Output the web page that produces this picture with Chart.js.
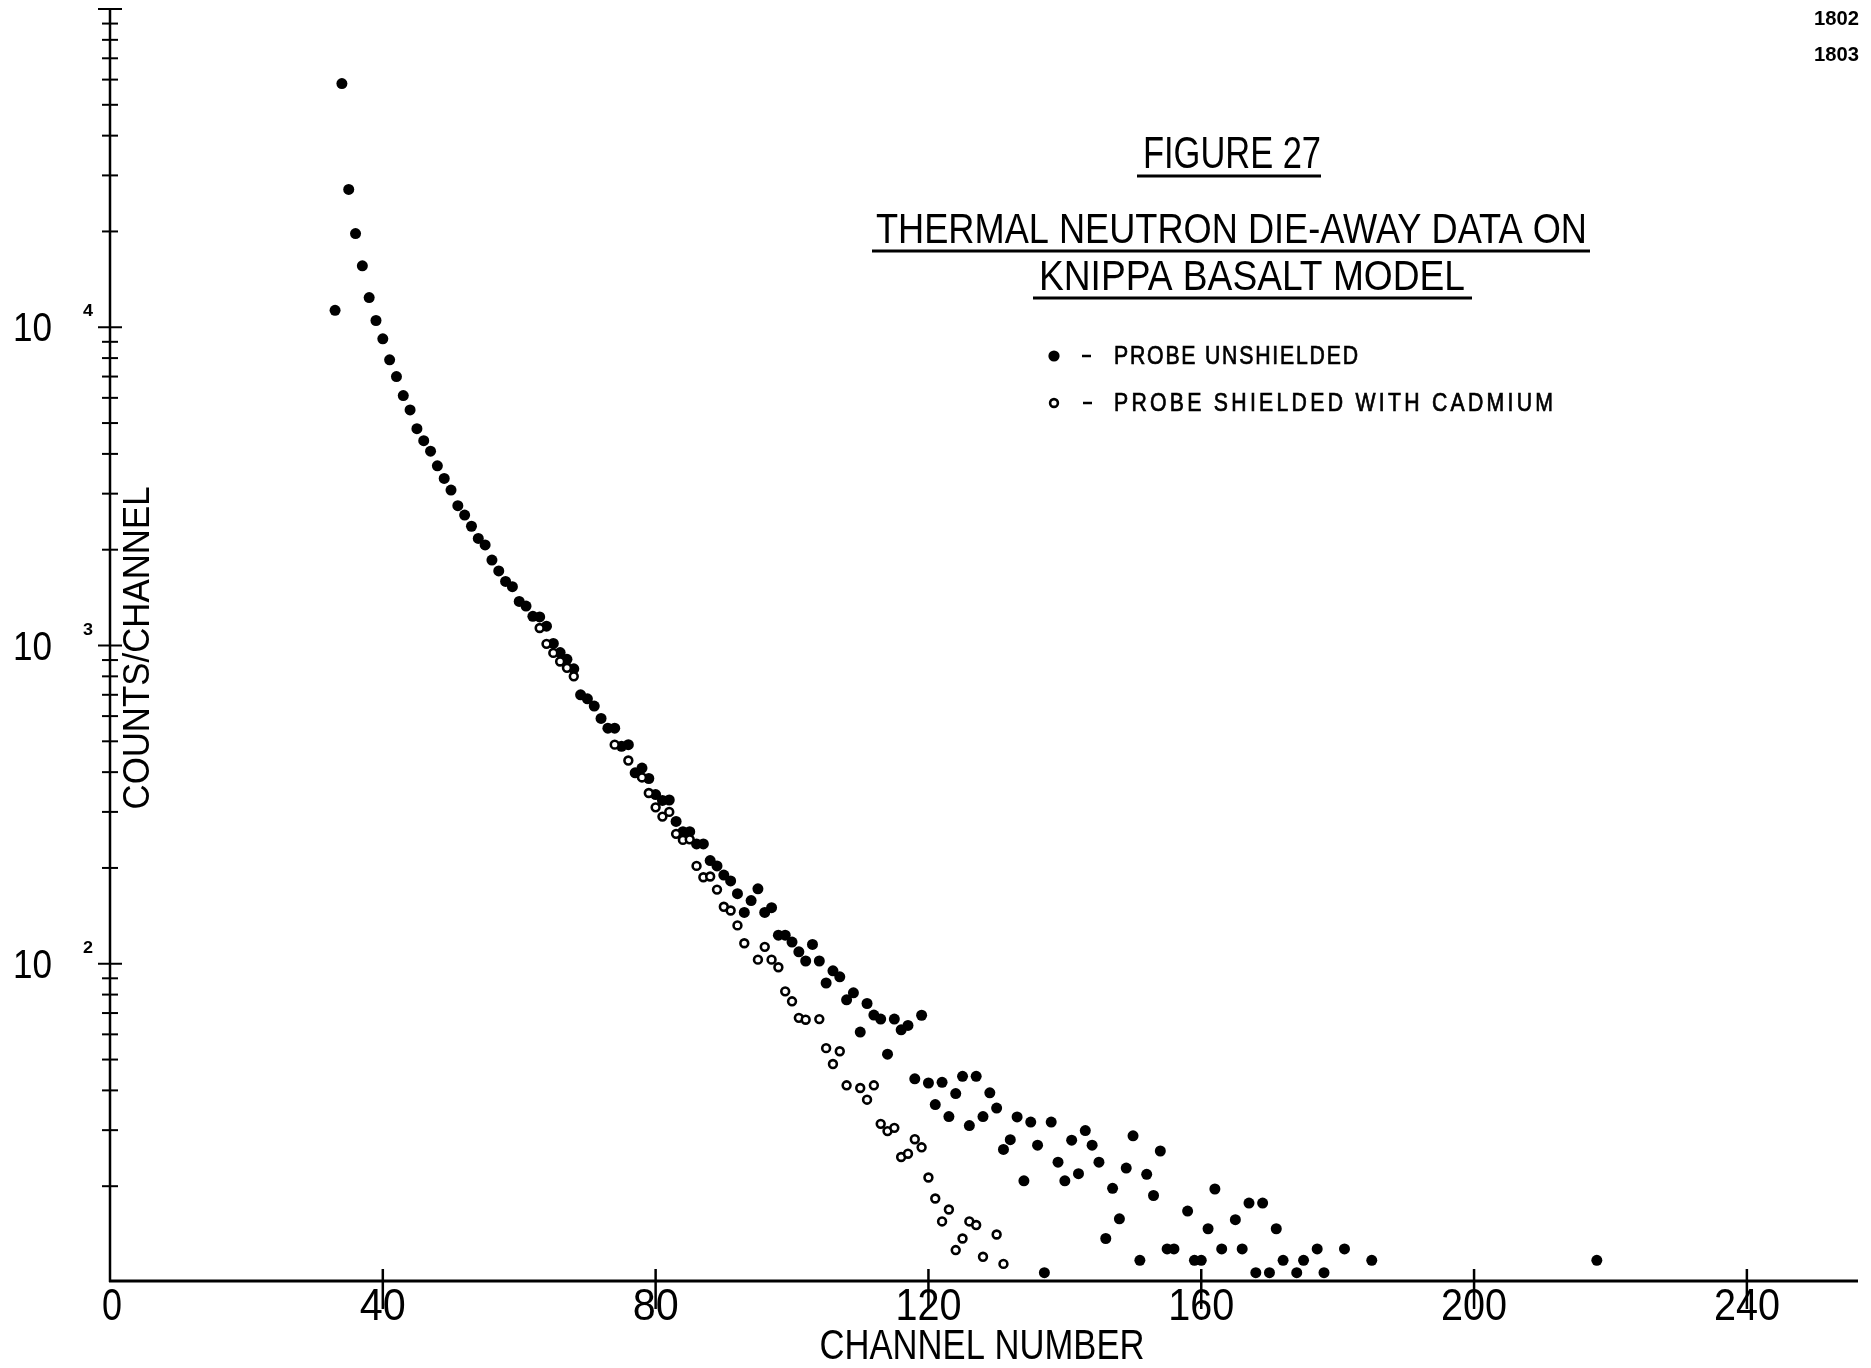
<!DOCTYPE html>
<html>
<head>
<meta charset="utf-8">
<script src="https://cdn.jsdelivr.net/npm/chart.js@4.4.1/dist/chart.umd.min.js"></script>
<style>
  html, body { margin: 0; padding: 0; background: #fff; }
  canvas { display: block; }
</style>
</head>
<body>
<canvas id="c" width="1871" height="1368"></canvas>
<script>
// ---------------- DATA ----------------
const unshieldedChannels = [
  33,34,35,36,37,38,39,40,41,42,43,44,45,46,47,48,49,50,51,52,53,54,55,56,57,58,59,60,
  61,62,63,64,65,66,67,68,69,70,71,72,73,74,75,76,77,78,79,80,81,82,83,84,85,86,87,88,
  89,90,91,92,93,94,95,96,97,98,99,100,101,102,103,104,105,106,107,108,109,110,111,112,
  113,114,115,116,117,118,119,120,121,122,123,124,125,126,127,128,129,130,131,132,133,
  134,135,136,137,138,139,140,141,142,143,144,145,146,147,148,149,150,151,152,153,154,
  155,156,158,159,160,161,162,163,165,166,167,168,169,170,171,172,174,175,177,178,181,
  185,218
];
const unshieldedCounts = [
  11300,58300,27100,19700,15600,12400,10500,9200,7900,7000,6100,5500,4800,4400,4080,3670,
  3350,3080,2750,2570,2370,2170,2070,1855,1715,1590,1530,1375,
  1330,1235,1230,1150,1015,950,905,845,700,680,645,590,550,550,482,488,398,412,382,340,
  326,327,280,260,260,238,238,211,
  203,190,182,166,145,158,172,145,150,123,123,117,109,102,115,102,87,95,91,77,81,61,75,69,
  67,52,67,62,64,43.5,68.9,42.2,36.1,42.4,33.1,39.1,44.3,31.0,44.3,33.1,39.3,35.2,26.1,28.0,33.0,
  20.8,31.8,26.9,10.7,31.8,23.8,20.8,27.9,21.9,29.9,26.9,23.8,13.7,19.7,15.8,22.8,28.8,11.7,21.8,18.7,25.8,
  12.7,12.7,16.7,11.7,11.7,14.7,19.6,12.7,15.7,12.7,17.7,10.7,17.7,10.7,14.7,11.7,10.7,11.7,12.7,10.7,12.7,
  11.7,11.7
];
const shieldedChannels = [
  63,64,65,66,67,68,74,76,78,79,80,81,82,83,84,85,86,87,88,89,90,91,92,93,95,96,97,98,99,
  100,101,102,104,105,106,107,108,110,111,112,113,114,115,116,117,118,119,120,121,122,123,
  124,125,126,127,128,130,131
];
const shieldedCounts = [
  1135,1012,948,891,851,800,488,435,385,344,310,290,300,256,245,246,203,187,188,171,151,147,132,116,103,113,103,97.5,81.9,
  76.2,67.6,66.7,67.0,54.3,48.4,53.1,41.5,40.7,37.4,41.5,31.4,29.8,30.5,24.7,25.3,28.1,26.5,21.3,18.3,15.5,16.9,
  12.6,13.7,15.5,15.1,12.0,14.1,11.4
];
const xTickValues = [40, 80, 120, 160, 200, 240];
const xTickLabels = ['0', '40', '80', '120', '160', '200', '240'];
const yLabelValues = [10000, 1000, 100];
const yLabelExponents = ['4', '3', '2'];
const titleLines = ['FIGURE 27', 'THERMAL NEUTRON DIE-AWAY DATA ON', 'KNIPPA BASALT MODEL'];
const legendLabels = ['PROBE UNSHIELDED', 'PROBE SHIELDED WITH CADMIUM'];
const pageNumbers = ['1802', '1803'];
const xAxisTitle = 'CHANNEL NUMBER';
const yAxisTitle = 'COUNTS/CHANNEL';

// ---------------- helpers ----------------
const SANS = "'Liberation Sans Narrow','Liberation Sans','DejaVu Sans',Arial,sans-serif";
const PLAIN = "'Liberation Sans','DejaVu Sans',Arial,sans-serif";

function fitText(ctx, str, x, y, size, width, align, family, weight, rotate) {
  ctx.save();
  ctx.font = (weight || 'normal') + ' ' + size + 'px ' + family;
  const nat = ctx.measureText(str).width;
  const sx = width / nat;
  ctx.translate(x, y);
  if (rotate) ctx.rotate(rotate);
  ctx.scale(sx, 1);
  ctx.textAlign = align;
  ctx.textBaseline = 'alphabetic';
  ctx.fillStyle = '#000';
  ctx.fillText(str, 0, 0);
  ctx.restore();
}
// plotter-style widely spaced text: narrow glyphs, spacing distributed to reach width
function spacedText(ctx, str, x, y, size, width, family, squeeze) {
  ctx.save();
  ctx.font = 'normal ' + size + 'px ' + family;
  ctx.fillStyle = '#000';
  ctx.strokeStyle = '#000';
  ctx.lineWidth = 0.7;
  ctx.textAlign = 'left';
  ctx.textBaseline = 'alphabetic';
  const chars = str.split('');
  const ws = chars.map(ch => ctx.measureText(ch).width * squeeze);
  const nat = ws.reduce((a, b) => a + b, 0);
  const gap = (width - nat) / (chars.length - 1);
  let px = x;
  chars.forEach((ch, i) => {
    ctx.save();
    ctx.translate(px, y);
    ctx.scale(squeeze, 1);
    ctx.fillText(ch, 0, 0);
    ctx.strokeText(ch, 0, 0);
    ctx.restore();
    px += ws[i] + gap;
  });
  ctx.restore();
}
function line(ctx, x1, y1, x2, y2, w) {
  ctx.beginPath();
  ctx.lineWidth = w;
  ctx.moveTo(x1, y1);
  ctx.lineTo(x2, y2);
  ctx.stroke();
}

const paperPlugin = {
  id: 'paper',
  beforeDraw(chart) {
    const c = chart.ctx;
    c.save();
    c.fillStyle = '#fff';
    c.fillRect(0, 0, chart.width, chart.height);
    c.restore();
  },
  beforeDatasetsDraw(chart) {
    const c = chart.ctx;
    const xs = chart.scales.x, ys = chart.scales.y;
    const x0 = xs.getPixelForValue(0);
    const xEnd = chart.chartArea.right;
    const yBot = ys.getPixelForValue(10) - 1;
    const yTop = ys.getPixelForValue(100000);
    c.save();
    c.strokeStyle = '#000';
    c.lineCap = 'butt';
    // axes
    line(c, x0, yBot + 1, x0, yTop, 2.5);
    line(c, x0 - 1, yBot, xEnd + 2, yBot, 3);
    // y ticks (log, crossing both sides)
    for (let d = 1; d <= 5; d++) {
      for (let m = 1; m <= 9; m++) {
        const v = m * Math.pow(10, d);
        if (v <= 10 || v > 100000) continue;
        const py = ys.getPixelForValue(v);
        const half = (m === 1) ? 12 : 8;
        line(c, x0 - half, py, x0 + half, py, 2);
      }
    }
    // x ticks (they run down through the labels, as in the plot)
    xTickValues.forEach(v => {
      const px = xs.getPixelForValue(v);
      line(c, px, yBot - 12, px, yBot + 28, 2.5);
    });
    // x tick labels
    const xLabelVals = [0].concat(xTickValues);
    xLabelVals.forEach((v, i) => {
      const s = xTickLabels[i];
      const w = s.length === 1 ? 20 : (s.length === 2 ? 46 : 66);
      fitText(c, s, xs.getPixelForValue(v) + (v === 0 ? 2 : 0), 1320, 44, w, 'center', SANS);
    });
    // y tick labels 10^n
    yLabelValues.forEach((v, i) => {
      const py = ys.getPixelForValue(v);
      fitText(c, '10', 13, py + 14, 40, 39, 'left', SANS);
      fitText(c, yLabelExponents[i], 83, py - 11, 17, 10, 'left', SANS, 'bold');
    });
    // axis titles
    fitText(c, xAxisTitle, 982, 1359, 43, 325, 'center', SANS);
    fitText(c, yAxisTitle, 149, 648, 37, 323, 'center', SANS, 'normal', -Math.PI / 2);
    // titles
    fitText(c, titleLines[0], 1143, 168, 44, 178, 'left', SANS);
    line(c, 1137, 176, 1321, 176, 3);
    fitText(c, titleLines[1], 876, 243, 43, 711, 'left', SANS);
    line(c, 872, 251, 1590, 251, 3);
    fitText(c, titleLines[2], 1039, 290, 42, 426, 'left', SANS);
    line(c, 1033, 298, 1472, 298, 3);
    // legend
    c.fillStyle = '#000';
    c.beginPath(); c.arc(1054, 356, 5.6, 0, Math.PI * 2); c.fill();
    line(c, 1082, 356, 1091, 356, 2.5);
    spacedText(c, legendLabels[0], 1114, 364, 25, 244, PLAIN, 0.85);
    c.beginPath(); c.lineWidth = 2.6; c.arc(1054, 403, 3.9, 0, Math.PI * 2); c.stroke();
    line(c, 1083, 403, 1092, 403, 2.5);
    spacedText(c, legendLabels[1], 1114, 411, 25, 439, PLAIN, 0.85);
    // page numbers
    fitText(c, pageNumbers[0], 1814, 25, 21, 45, 'left', PLAIN, 'bold');
    fitText(c, pageNumbers[1], 1814, 61, 21, 45, 'left', PLAIN, 'bold');
    c.restore();
  }
};

function toPoints(xsArr, ysArr) {
  return xsArr.map((x, i) => ({ x: x, y: ysArr[i] }));
}

new Chart(document.getElementById('c'), {
  type: 'scatter',
  data: {
    datasets: [
      {
        label: legendLabels[1],
        data: toPoints(shieldedChannels, shieldedCounts),
        pointRadius: 3.9,
        pointBorderWidth: 2.6,
        pointBorderColor: '#000',
        pointBackgroundColor: '#fff',
        order: 0
      },
      {
        label: legendLabels[0],
        data: toPoints(unshieldedChannels, unshieldedCounts),
        pointRadius: 5.5,
        pointBorderWidth: 0,
        pointBackgroundColor: '#000',
        pointBorderColor: '#000',
        order: 1
      }
    ]
  },
  options: {
    responsive: false,
    animation: false,
    devicePixelRatio: 1,
    layout: { padding: { left: 110, right: 15, top: 9, bottom: 86 } },
    plugins: { legend: { display: false }, tooltip: { enabled: false }, title: { display: false } },
    scales: {
      x: { type: 'linear', min: 0, max: 256, display: false },
      y: { type: 'logarithmic', min: 10, max: 100000, display: false }
    }
  },
  plugins: [paperPlugin]
});
</script>
</body>
</html>
